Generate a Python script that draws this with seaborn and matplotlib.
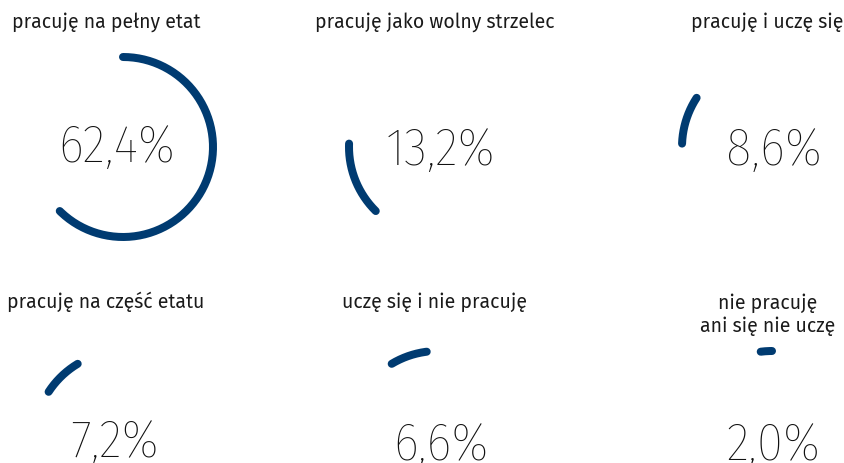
import numpy as np
import pandas as pd
import matplotlib
matplotlib.use("Agg")
import matplotlib.pyplot as plt
import seaborn as sns

# ---- data ----
categories = ["pracuję na pełny etat", "pracuję jako wolny strzelec", "pracuję i uczę się",
              "pracuję na część etatu", "uczę się i nie pracuję", "nie pracuję\nani się nie uczę"]
values = [62.4, 13.2, 8.6, 7.2, 6.6, 2.0]
labels = [f"{v:.1f}".replace(".", ",") + "%" for v in values]

sns.set_theme(style="white")
plt.rcParams['font.family'] = ['Fira Sans', 'Open Sans', 'DejaVu Sans']
NUM_FONT = ['Fira Sans Condensed', 'Roboto', 'DejaVu Sans']

W, H = 844, 464
fig = plt.figure(figsize=(W / 100, H / 100), dpi=100)
ax = fig.add_axes([0, 0, 1, 1])

# layout (pixel coordinates)
centers = [(123, 148), (439, 148), (772, 148), (124, 442), (438, 442), (772, 442)]
num_x = [117, 440, 774, 114, 441, 773]
num_base = [162, 165, 165, 457, 460, 460]
title_x = [106, 435, 767, 106, 434, 768]
title_base = [28, 28, 28, 308, 308, 309]
R = 90
COLOR = "#003b71"

start = 90.0
frames = []
for i, (cat, v) in enumerate(zip(categories, values)):
    sweep = v / 100 * 360
    theta = np.deg2rad(np.linspace(start, start - sweep, 200))
    cx, cy = centers[i]
    frames.append(pd.DataFrame({"x": cx + R * np.cos(theta),
                                "y": cy - R * np.sin(theta),
                                "seg": cat}))
    start -= sweep
df = pd.concat(frames, ignore_index=True)

sns.lineplot(data=df, x="x", y="y", units="seg", estimator=None, sort=False,
             color=COLOR, lw=8 * 0.72, solid_capstyle="round", ax=ax, legend=False)

for i, (cat, lab) in enumerate(zip(categories, labels)):
    ax.text(num_x[i], num_base[i], lab, ha="center", va="baseline", fontsize=38.5,
            family=NUM_FONT, fontweight=250, color="#111111")
    for k, line in enumerate(cat.split("\n")):
        ax.text(title_x[i], title_base[i] + 23 * k, line, ha="center", va="baseline",
                fontsize=14, color="#1a1a1a")

ax.set_xlim(0, W)
ax.set_ylim(H, 0)
ax.set_aspect("equal")
ax.axis("off")

fig.savefig("out.png", dpi=100)
